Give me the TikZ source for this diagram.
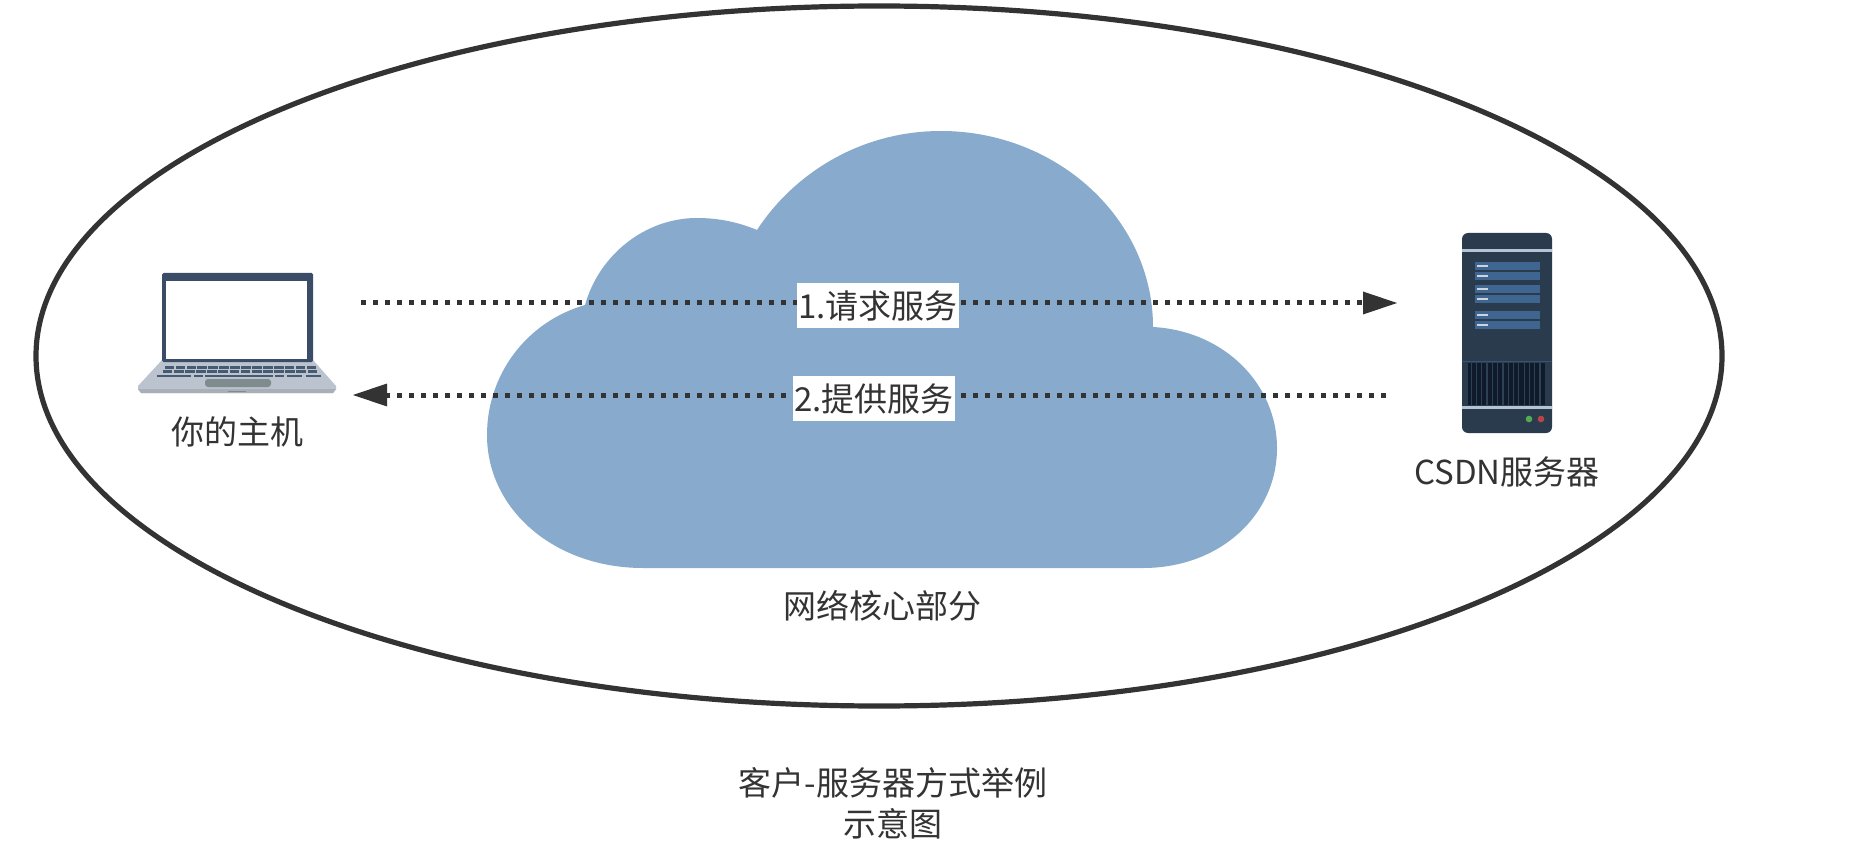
\documentclass[tikz,border=0pt]{standalone}
\usepackage{fontspec}
\setmainfont{Noto Sans CJK SC}
\usetikzlibrary{arrows.meta}
\definecolor{ink}{HTML}{333333}
\definecolor{cloudblue}{HTML}{87AACD}
\definecolor{lapdark}{HTML}{3B4D66}
\definecolor{lapgray}{HTML}{BAC3CE}
\definecolor{lapkey}{HTML}{465A72}
\definecolor{padgray}{HTML}{7F8B8D}
\definecolor{srvdark}{HTML}{2A3B4D}
\definecolor{srvbar}{HTML}{3E6690}
\definecolor{srvlight}{HTML}{B5C3D2}
\definecolor{srvgrille}{HTML}{0F1A2B}
\tikzset{
  lab/.style={font=\fontsize{33}{33}\selectfont, text=ink, inner sep=0pt, align=center},
  flowlab/.style={lab, fill=white, minimum width=162pt, minimum height=45pt},
  flow/.style={draw=ink, line width=5pt, dash pattern=on 5.4pt off 6.6pt,
     -{Triangle[length=34pt,width=23pt,fill=ink,line width=0pt,sep=4pt]}},
  key/.style={fill=lapkey, draw=none},
}
\begin{document}
\begin{tikzpicture}[x=1pt,y=-1pt]
\useasboundingbox (0,0) rectangle (1867,858);
\fill[white] (0,0) rectangle (1867,858);

% boundary ellipse
\draw[ink, line width=5.2pt] (879,356) ellipse [x radius=843, y radius=350];

% cloud
\fill[cloudblue] (643,568)
  .. controls (555,568) and (487,510) .. (487,435)
  .. controls (487,375) and (526,322) .. (585,305)
  .. controls (599,255) and (645,218) .. (697,218)
  .. controls (718,218) and (738,222) .. (757,230)
  .. controls (795,172) and (862,131) .. (941,131)
  .. controls (1056,131) and (1153,218) .. (1153,327)
  .. controls (1225,331) and (1277,385) .. (1277,448)
  .. controls (1277,515) and (1220,568) .. (1143,568)
  -- cycle;

% laptop
\fill[lapgray] (162,360) -- (313,360) -- (336,386) -- (336,389) -- (333,393) -- (141,393) -- (138,389) -- (138,386) -- cycle;
\fill[lapgray!70!gray] (138,389) -- (336,389) -- (333,393) -- (141,393) -- cycle;
\fill[padgray] (228,391) rectangle (246,392);
\fill[lapdark, rounded corners=1.5pt] (162,273) rectangle (313,362);
\fill[white] (166,281) rectangle (307,359);
\foreach \r/\yy/\xl/\xr in {0/366/164/317, 1/370/162/318}{
  \pgfmathsetmacro{\w}{(\xr-\xl)/14}
  \foreach \i in {0,...,13}{
    \fill[key] ({\xl+\i*\w+0.7},\yy) rectangle ({\xl+(\i+1)*\w-0.7},{\yy+3.4});
  }
}
\foreach \a/\b in {157/191,194/203,205/273,275/284,287/302,306/321}{
  \fill[key] (\a,374.5) rectangle (\b,377);
}
\fill[padgray, rounded corners=3pt] (205,379) rectangle (271,387);

% server
\fill[srvdark, rounded corners=6pt] (1462,233) rectangle (1552,433);
\fill[srvlight] (1462,249) rectangle (1552,252);
\fill[srvbar!55!srvdark] (1462,360.5) rectangle (1552,361.5);
\fill[srvlight] (1462,406) rectangle (1552,409);
\foreach \yy in {262,272,285,295,311,321}{
  \fill[srvbar] (1475,\yy) rectangle (1540,{\yy+8});
  \fill[srvlight!70!white] (1477,{\yy+3}) rectangle (1488,{\yy+5});
}
\fill[srvgrille] (1468,363) rectangle (1545,405);
\foreach \i in {0,...,13}{
  \fill[srvdark!85!srvbar] ({1470.5+\i*5.3},363) rectangle ({1471.7+\i*5.3},405);
}
\fill[green!35!gray] (1529,419) circle (3.3);
\fill[red!45!gray] (1541,419) circle (3.3);

% connectors
\coordinate (reqS) at (361,303);
\coordinate (reqE) at (1401,303);
\coordinate (repS) at (1386,395);
\coordinate (repE) at (349,395);
\draw[flow] (reqS) -- (reqE);
\draw[flow] (repS) -- (repE);
\node[flowlab] (req) at (878,305.5) {1.请求服务};
\node[flowlab] (rep) at (874,398.5) {2.提供服务};

% labels
\node[lab] (host) at (237,432) {你的主机};
\node[lab] (csdn) at (1507,472) {CSDN服务器};
\node[lab] (core) at (882,606) {网络核心部分};
\node[lab] (cap1) at (893,783) {客户-服务器方式举例};
\node[lab] (cap2) at (893,824) {示意图};
\end{tikzpicture}
\end{document}
